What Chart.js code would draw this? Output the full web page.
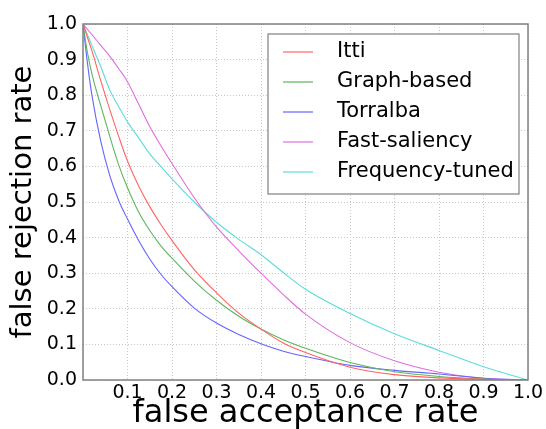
<!DOCTYPE html>
<html>
<head>
<meta charset="utf-8">
<script src="https://cdn.jsdelivr.net/npm/chart.js@4.4.1/dist/chart.umd.min.js"></script>
<style>
  html, body { margin: 0; padding: 0; background: #fff; }
  #wrap { width: 546px; height: 429px; }
</style>
</head>
<body>
<div id="wrap"><canvas id="myChart" width="546" height="429"></canvas></div>
<script>
// false acceptance rate (x) shared by every curve
const fpr = [0, 0.01, 0.02, 0.04, 0.06, 0.08, 0.1, 0.125, 0.15, 0.175, 0.2, 0.25, 0.3, 0.35, 0.4, 0.45, 0.5, 0.6, 0.7, 0.8, 0.9, 1.0]

// false rejection rate per method
const itti = [1, 0.962, 0.925, 0.84, 0.76, 0.685, 0.615, 0.545, 0.487, 0.437, 0.392, 0.31, 0.245, 0.188, 0.143, 0.104, 0.077, 0.036, 0.015, 0.006, 0.002, 0]
const graphBased = [1, 0.92, 0.86, 0.77, 0.685, 0.605, 0.54, 0.472, 0.42, 0.377, 0.342, 0.278, 0.224, 0.179, 0.143, 0.113, 0.089, 0.049, 0.023, 0.01, 0.003, 0]
const torralba = [1, 0.89, 0.8, 0.67, 0.575, 0.505, 0.452, 0.392, 0.34, 0.297, 0.262, 0.202, 0.16, 0.128, 0.102, 0.081, 0.066, 0.041, 0.027, 0.017, 0.005, 0]
const fastSaliency = [1, 0.985, 0.97, 0.94, 0.91, 0.875, 0.838, 0.775, 0.712, 0.658, 0.608, 0.512, 0.43, 0.363, 0.3, 0.24, 0.185, 0.105, 0.054, 0.022, 0.005, 0]
const frequencyTuned = [1, 0.97, 0.94, 0.88, 0.815, 0.768, 0.725, 0.68, 0.635, 0.6, 0.565, 0.5, 0.443, 0.395, 0.352, 0.302, 0.255, 0.187, 0.13, 0.083, 0.037, 0]

const seriesNames = ["Itti", "Graph-based", "Torralba", "Fast-saliency", "Frequency-tuned"]
const seriesValues = [itti, graphBased, torralba, fastSaliency, frequencyTuned]
const seriesColors = ["#ff6464", "#5cb85c", "#6464ff", "#e06ee0", "#5cdcdc"]

const xTicks = [0.1, 0.2, 0.3, 0.4, 0.5, 0.6, 0.7, 0.8, 0.9, 1.0]
const yTicks = [0, 0.1, 0.2, 0.3, 0.4, 0.5, 0.6, 0.7, 0.8, 0.9, 1.0]

const fontFamily = "'DejaVu Sans', sans-serif"

const toPoints = (values) => values.map((v, i) => ({ x: fpr[i], y: v }))

// frame round the plot plus a boxed legend in the top right corner
const framePlugin = {
  id: "frame",
  afterDraw: (chart) => {
    const { ctx, chartArea } = chart
    ctx.save()
    ctx.strokeStyle = "#808080"
    ctx.lineWidth = 1.5
    ctx.strokeRect(chartArea.left, chartArea.top, chartArea.right - chartArea.left, chartArea.bottom - chartArea.top)

    const boxRight = chartArea.right - 9
    const boxLeft = boxRight - 251
    const boxTop = chartArea.top + 10
    const rowGap = 30
    const boxHeight = rowGap * chart.data.datasets.length + 10

    ctx.fillStyle = "#fff"
    ctx.fillRect(boxLeft, boxTop, boxRight - boxLeft, boxHeight)
    ctx.strokeStyle = "#808080"
    ctx.lineWidth = 1.2
    ctx.strokeRect(boxLeft, boxTop, boxRight - boxLeft, boxHeight)

    ctx.font = `21px ${fontFamily}`
    ctx.textBaseline = "middle"
    chart.data.datasets.forEach((ds, i) => {
      const y = boxTop + 18 + i * rowGap
      ctx.strokeStyle = ds.borderColor
      ctx.lineWidth = 1.2
      ctx.beginPath()
      ctx.moveTo(boxLeft + 15, y)
      ctx.lineTo(boxLeft + 45, y)
      ctx.stroke()
      ctx.fillStyle = "#000"
      ctx.fillText(ds.label, boxLeft + 69, y)
    })
    ctx.restore()
  }
}

const ctx = document.querySelector("#myChart")

const myChart = new Chart(ctx, {
  type: "line",
  data: {
    datasets: seriesNames.map((name, i) => ({
      label: name,
      data: toPoints(seriesValues[i]),
      borderColor: seriesColors[i],
      backgroundColor: seriesColors[i],
      borderWidth: 1.1,
      pointRadius: 0,
      fill: false,
      cubicInterpolationMode: "monotone"
    }))
  },
  options: {
    responsive: false,
    animation: false,
    layout: { padding: { top: 24, right: 18, left: 0, bottom: 0 } },
    plugins: {
      legend: { display: false },
      tooltip: { enabled: false }
    },
    scales: {
      x: {
        type: "linear",
        min: 0,
        max: 1,
        afterFit: (scale) => { scale.height = 49 },
        afterBuildTicks: (scale) => { scale.ticks = xTicks.map(v => ({ value: v })) },
        ticks: {
          color: "#000",
          font: { family: fontFamily, size: 19 },
          padding: 2,
          maxRotation: 0,
          callback: (v) => v.toFixed(1)
        },
        grid: { color: "#c8c8c8", lineWidth: 1, drawTicks: false },
        border: { display: false, dash: [1, 2] },
        title: {
          display: true,
          text: "false acceptance rate",
          color: "#000",
          font: { family: fontFamily, size: 32 },
          padding: { top: 0, bottom: -4 }
        }
      },
      y: {
        type: "linear",
        min: 0,
        max: 1,
        afterFit: (scale) => { scale.width = 83 },
        afterBuildTicks: (scale) => { scale.ticks = yTicks.map(v => ({ value: v })) },
        ticks: {
          color: "#000",
          font: { family: fontFamily, size: 19 },
          padding: 6,
          callback: (v) => v.toFixed(1)
        },
        grid: { color: "#c8c8c8", lineWidth: 1, drawTicks: false },
        border: { display: false, dash: [1, 2] },
        title: {
          display: true,
          text: "false rejection rate",
          color: "#000",
          font: { family: fontFamily, size: 29 },
          padding: { top: 6, bottom: 0 }
        }
      }
    }
  },
  plugins: [framePlugin]
})
</script>
</body>
</html>
